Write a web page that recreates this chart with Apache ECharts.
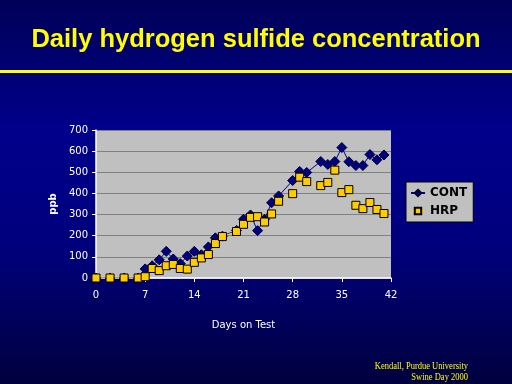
<!DOCTYPE html>
<html><head><meta charset="utf-8">
<script src="https://cdn.jsdelivr.net/npm/echarts@6/dist/echarts.min.js"></script>
<style>html,body{margin:0;padding:0;}#c{width:512px;height:384px;}</style>
</head><body><div id="c"></div>
<script>
const days = [0,2,4,6,7,8,9,10,11,12,13,14,15,16,17,18,20,21,22,23,24,25,26,28,29,30,32,33,34,35,36,37,38,39,40,41];
const cont = [0,0,0,0,43,58,86,126,90,68,104,126,110,147,190,198,225,278,298,224,278,356,388,461,504,499,551,537,551,617,550,532,532,584,559,582];
const hrp  = [0,0,0,0,6,45,35,58,64,45,42,74,95,111,163,196,220,254,287,290,265,303,363,399,477,456,437,452,510,404,418,344,328,357,324,305];
const xTicks = [0,7,14,21,28,35,42];
const yTicks = [0,100,200,300,400,500,600,700];

const chart = echarts.init(document.getElementById('c'), null, {renderer:'canvas'});
const pair = (xs, ys) => xs.map((x,i)=>[x, ys[i]]);
chart.setOption({
  animation:false,
  backgroundColor: new echarts.graphic.LinearGradient(0,0,0,1,[
    {offset:0,color:'#000058'},{offset:0.35,color:'#00008c'},{offset:0.65,color:'#00007c'},{offset:1,color:'#00003e'}]),
  title:{text:'Daily hydrogen sulfide concentration', left:'center', top:22,
    textStyle:{color:'#ffff00', fontFamily:'Liberation Sans', fontWeight:'bold', fontSize:25.5}},
  graphic:[
    {type:'rect', shape:{x:0,y:70,width:512,height:3}, style:{fill:'#ffff00'}, silent:true},
    {type:'text', x:468, y:366, scaleX:0.85, style:{text:'Kendall, Purdue University', fill:'#ffff00', font:'10px "Liberation Serif"', textAlign:'right', textVerticalAlign:'middle'}},
    {type:'text', x:468, y:377, scaleX:0.85, style:{text:'Swine Day 2000', fill:'#ffff00', font:'10px "Liberation Serif"', textAlign:'right', textVerticalAlign:'middle'}}
  ],
  grid:{left:96, right:121, top:130, bottom:106, show:true, backgroundColor:'#c0c0c0', borderWidth:0},
  legend:{orient:'vertical', left:406, top:182, backgroundColor:'#c0c0c0', borderColor:'#000', borderWidth:1,
    padding:[5,6,5,4], itemGap:6, itemWidth:14, itemHeight:8,
    textStyle:{color:'#000', fontFamily:'DejaVu Sans', fontWeight:'bold', fontSize:12},
    data:['CONT','HRP']},
  xAxis:{type:'value', min:0, max:42, interval:7, name:'Days on Test', nameLocation:'middle', nameGap:42,
    nameTextStyle:{color:'#fff', fontFamily:'DejaVu Sans', fontSize:10},
    axisLine:{lineStyle:{color:'#fff', width:1.5}}, axisTick:{show:true, length:4, lineStyle:{color:'#fff'}},
    axisLabel:{color:'#fff', fontFamily:'DejaVu Sans', fontSize:10, margin:12, customValues:xTicks},
    splitLine:{show:false}},
  yAxis:{type:'value', min:0, max:700, interval:100, name:'ppb', nameLocation:'middle', nameGap:37, nameRotate:90,
    nameTextStyle:{color:'#fff', fontFamily:'DejaVu Sans', fontWeight:'bold', fontSize:10},
    axisLine:{show:true, lineStyle:{color:'#fff', width:1.5}}, axisTick:{show:true, length:4, lineStyle:{color:'#fff'}},
    axisLabel:{color:'#fff', fontFamily:'DejaVu Sans', fontSize:10, margin:8},
    splitLine:{show:true, lineStyle:{color:'#808080', width:1}}},
  series:[
    {name:'CONT', type:'line', data:pair(days,cont), symbol:'diamond', symbolSize:10,
      lineStyle:{color:'#000080', width:1}, itemStyle:{color:'#000080', borderColor:'#000030', borderWidth:1}, z:2},
    {name:'HRP', type:'line', data:pair(days,hrp), symbol:'rect', symbolSize:8,
      lineStyle:{color:'#ffcc00', width:1}, itemStyle:{color:'#ffcc00', borderColor:'#000', borderWidth:1}, z:3}
  ]
});
</script></body></html>
